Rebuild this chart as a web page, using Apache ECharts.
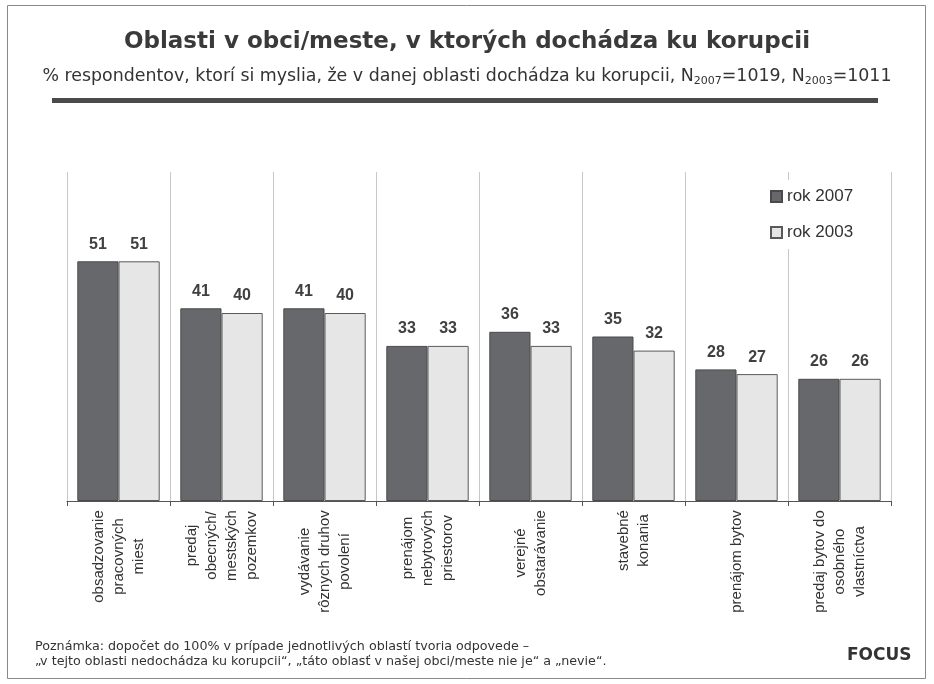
<!DOCTYPE html>
<html>
<head>
<meta charset="utf-8">
<script src="https://cdn.jsdelivr.net/npm/echarts@6/dist/echarts.min.js"></script>
<style>
  html, body { margin: 0; padding: 0; background: #fff; }
  #chart { width: 934px; height: 684px; }
</style>
</head>
<body>
<div id="chart"></div>
<script>
// categories (line breaks as in the original)
const categories = [
  "obsadzovanie\npracovných\nmiest",
  "predaj\nobecných/\nmestských\npozemkov",
  "vydávanie\nrôznych druhov\npovolení",
  "prenájom\nnebytových\npriestorov",
  "verejné\nobstarávanie",
  "stavebné\nkonania",
  "prenájom bytov",
  "predaj bytov do\nosobného\nvlastníctva",
];
const values2007 = [51, 41, 41, 33, 36, 35, 28, 26];
const values2003 = [51, 40, 40, 33, 33, 32, 27, 26];
const seriesNames = ["rok 2007", "rok 2003"];

const chart = echarts.init(document.getElementById("chart"));

const catFont = "15px 'Liberation Sans', Arial, sans-serif";

// measure the longest line of each category so lines can be centred in the block
const ctx = document.createElement("canvas").getContext("2d");
ctx.font = catFont;
const catRich = {};
categories.forEach((c, i) => {
  const w = Math.max(...c.split("\n").map((l) => ctx.measureText(l).width));
  catRich["c" + i] = {
    width: Math.ceil(w),
    align: "center",
    fontFamily: "Liberation Sans, Arial, sans-serif",
    fontSize: 15,
    lineHeight: 20,
    color: "#333",
  };
});

const labelStyle = {
  show: true,
  position: "top",
  distance: 9,
  fontFamily: "Liberation Sans, Arial, sans-serif",
  fontWeight: "bold",
  fontSize: 16,
  color: "#404040",
};

const option = {
  backgroundColor: "#fff",
  animation: false,
  title: [
    {
      text: "Oblasti v obci/meste, v ktorých dochádza ku korupcii",
      left: "center",
      top: 26,
      textStyle: {
        fontFamily: "DejaVu Sans",
        fontWeight: "bold",
        fontSize: 23,
        color: "#3a3a3a",
      },
    },
    {
      text: "% respondentov, ktorí si myslia, že v danej oblasti dochádza ku korupcii, N{sub|2007}=1019, N{sub|2003}=1011",
      left: "center",
      top: 60,
      textStyle: {
        fontFamily: "DejaVu Sans",
        fontWeight: "normal",
        fontSize: 17.4,
        color: "#333",
        lineHeight: 22,
        rich: {
          sub: {
            fontFamily: "DejaVu Sans",
            fontSize: 11,
            color: "#333",
            lineHeight: 15,
            verticalAlign: "bottom",
          },
        },
      },
    },
    {
      text: "Poznámka: dopočet do 100% v prípade jednotlivých oblastí tvoria odpovede –\n„v tejto oblasti nedochádza ku korupcii“, „táto oblasť v našej obci/meste nie je“ a „nevie“.",
      left: 30,
      top: 634,
      textStyle: {
        fontFamily: "DejaVu Sans",
        fontSize: 12.7,
        lineHeight: 15,
        color: "#333",
        fontWeight: "normal",
      },
    },
    {
      text: "FOCUS",
      left: 842,
      top: 642,
      textStyle: {
        fontFamily: "DejaVu Sans",
        fontWeight: "bold",
        fontSize: 17,
        color: "#333",
      },
    },
  ],
  graphic: [
    {
      type: "rect",
      shape: { x: 7.5, y: 5.5, width: 918, height: 673 },
      style: { fill: "none", stroke: "#888", lineWidth: 1 },
      silent: true,
    },
    {
      type: "rect",
      shape: { x: 52, y: 98, width: 826, height: 5 },
      style: { fill: "#4a4a4a" },
      silent: true,
    },
  ],
  legend: {
    data: seriesNames,
    orient: "vertical",
    left: 762,
    top: 180,
    itemWidth: 11,
    itemHeight: 11,
    itemGap: 19,
    padding: [8, 10, 8, 8],
    backgroundColor: "#fff",
    icon: "rect",
    textStyle: {
      fontFamily: "Liberation Sans, Arial, sans-serif",
      fontSize: 17,
      color: "#333",
    },
  },
  grid: {
    left: 67,
    right: 43,
    top: 172,
    bottom: 183,
    containLabel: false,
  },
  xAxis: {
    type: "category",
    data: categories,
    axisLine: { lineStyle: { color: "#555", width: 1 } },
    axisTick: { show: true, length: 5, lineStyle: { color: "#555" } },
    splitLine: { show: true, lineStyle: { color: "#c8c8c8", width: 1 } },
    axisLabel: {
      interval: 0,
      rotate: 90,
      margin: 9,
      formatter: (v, i) =>
        v
          .split("\n")
          .map((l) => "{c" + i + "|" + l + "}")
          .join("\n"),
      rich: catRich,
    },
  },
  yAxis: {
    type: "value",
    min: 0,
    max: 70,
    show: false,
    splitLine: { show: false },
  },
  series: [
    {
      name: seriesNames[0],
      type: "bar",
      data: values2007,
      barGap: "0%",
      barCategoryGap: "20%",
      itemStyle: { color: "#67686c", borderColor: "#4a4a4a", borderWidth: 1 },
      label: labelStyle,
    },
    {
      name: seriesNames[1],
      type: "bar",
      data: values2003,
      itemStyle: { color: "#e6e6e6", borderColor: "#5a5a5a", borderWidth: 1 },
      label: labelStyle,
    },
  ],
};

chart.setOption(option);
</script>
</body>
</html>
